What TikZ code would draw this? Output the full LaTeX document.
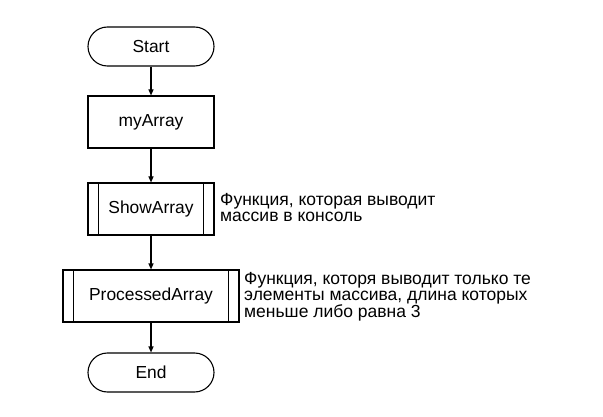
\documentclass[tikz,border=0pt]{standalone}
\usepackage{fontspec}
\setmainfont{Liberation Sans}
\usetikzlibrary{arrows.meta}
\begin{document}
\begin{tikzpicture}[x=1pt,y=-1pt,
  every node/.style={font=\fontsize{17.4}{17.4}\selectfont},
  box/.style={draw,line width=1.1pt,minimum width=126pt,minimum height=52pt,inner sep=0pt},
  term/.style={box,minimum height=39pt,rounded corners=19.5pt},
  conn/.style={line width=1.1pt,-{Triangle[length=6pt,width=5pt]}},
  note/.style={font=\fontsize{17.5}{15.7}\selectfont,align=left,inner sep=0pt,anchor=base west}]
\useasboundingbox (0,0) rectangle (603,417);
\node[term] (start) at (151,46.5) {Start};
\node[box] (arr) at (151,122) {myArray};
\node[box] (show) at (151,209) {ShowArray};
\node[box,minimum width=176pt] (proc) at (151,296) {ProcessedArray};
\node[term] (end) at (151,372.5) {End};
\foreach \n in {show,proc}{
  \draw[line width=1.1pt] ([xshift=11pt]\n.north west) -- ([xshift=11pt]\n.south west);
  \draw[line width=1.1pt] ([xshift=-11pt]\n.north east) -- ([xshift=-11pt]\n.south east);
}
\draw[conn] (start) -- (arr);
\draw[conn] (arr) -- (show);
\draw[conn] (show) -- (proc);
\draw[conn] (proc) -- (end);
\node[note] (n1) at (220,221.5) {Функция, которая выводит\\массив в консоль};
\node[note] (n2) at (244,317.5) {Функция, которя выводит только те\\элементы массива, длина которых\\меньше либо равна 3};
\end{tikzpicture}
\end{document}
